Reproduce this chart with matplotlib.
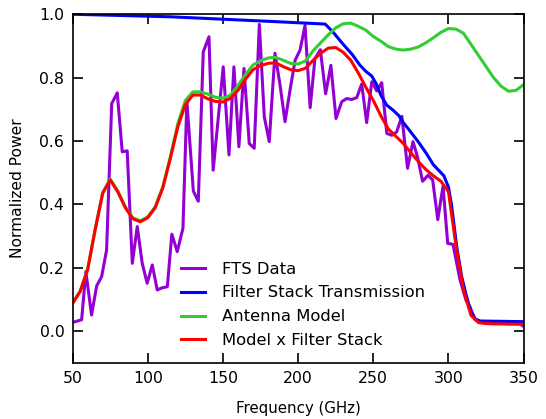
import matplotlib
matplotlib.use("Agg")
from matplotlib import pyplot as plt

# FTS measurement (GHz, normalized power)
fts_freq = [50.4, 56, 58.8, 62.6, 66, 69.3, 72.6, 76, 79.7, 83, 86.3, 89.7, 93, 96.3,
            99.6, 103, 106.3, 109.6, 113, 116, 119.6, 123.4, 126, 130.3, 133.6, 136.9,
            140.7, 143.5, 150.2, 154, 157.3, 160.6, 164, 167.5, 170.8, 174.2, 177.5,
            180.8, 184.6, 188, 191.3, 194.6, 198, 201.3, 204.6, 208, 211.2, 214.8,
            218.3, 221.8, 225.2, 229, 232.3, 235.6, 239, 242.3, 245.6, 249, 252.3,
            255.6, 259, 262.4, 265.6, 269, 272.8, 276.4, 279.4, 282.8, 286.5, 289.5,
            292.9, 296.4, 299.5, 303, 307.7, 311.7, 314.3, 317.7, 321, 330, 340, 347, 350]
fts_power = [0.028, 0.036, 0.188, 0.051, 0.143, 0.172, 0.256, 0.718, 0.752, 0.566, 0.569,
             0.214, 0.33, 0.214, 0.151, 0.209, 0.13, 0.137, 0.14, 0.306, 0.251, 0.325,
             0.725, 0.442, 0.41, 0.881, 0.929, 0.508, 0.834, 0.556, 0.834, 0.582, 0.829,
             0.592, 0.577, 0.968, 0.676, 0.598, 0.877, 0.776, 0.661, 0.76, 0.855, 0.887,
             0.965, 0.705, 0.86, 0.888, 0.749, 0.839, 0.671, 0.724, 0.734, 0.731, 0.737,
             0.78, 0.658, 0.787, 0.758, 0.784, 0.624, 0.618, 0.629, 0.678, 0.514, 0.598,
             0.55, 0.473, 0.492, 0.477, 0.352, 0.458, 0.277, 0.274, 0.162, 0.097, 0.077,
             0.036, 0.03, 0.028, 0.028, 0.025, 0.015]

# filter stack transmission
filt_freq = [50, 115, 188, 218, 223, 230, 236, 241, 245, 249, 252, 255, 259, 263, 267,
             270, 275, 280, 285, 290, 294, 297, 300, 302, 305.5, 308.8, 312, 315, 318,
             321, 350]
filt_power = [1.0, 0.992, 0.976, 0.969, 0.945, 0.905, 0.873, 0.84, 0.82, 0.805, 0.78,
              0.745, 0.713, 0.698, 0.68, 0.658, 0.628, 0.597, 0.563, 0.525, 0.505, 0.49,
              0.455, 0.40, 0.267, 0.172, 0.11, 0.06, 0.038, 0.032, 0.03]

# antenna model and model x filter stack
model_freq = [50, 55, 60, 65, 70, 75, 80, 85, 90, 95, 100, 105, 110, 115, 120, 125, 130,
              135, 140, 145, 150, 155, 160, 165, 170, 175, 180, 185, 190, 195, 200, 205,
              210, 215, 220, 225, 230, 235, 240, 245, 250, 255, 260, 265, 270, 275, 280,
              285, 290, 295, 300, 305, 310, 315, 320, 325, 330, 335, 340, 345, 350]
antenna = [0.088, 0.126, 0.196, 0.322, 0.437, 0.48, 0.443, 0.393, 0.358, 0.348, 0.361,
           0.393, 0.456, 0.55, 0.655, 0.728, 0.755, 0.755, 0.748, 0.738, 0.735, 0.745,
           0.775, 0.81, 0.84, 0.853, 0.862, 0.864, 0.855, 0.845, 0.843, 0.853, 0.885,
           0.91, 0.935, 0.957, 0.97, 0.972, 0.962, 0.95, 0.93, 0.915, 0.898, 0.89, 0.887,
           0.89, 0.897, 0.91, 0.926, 0.943, 0.955, 0.953, 0.94, 0.905, 0.87, 0.835, 0.8,
           0.773, 0.757, 0.76, 0.778]
combined = [0.088, 0.125, 0.194, 0.32, 0.435, 0.477, 0.44, 0.39, 0.355, 0.345, 0.358,
            0.39, 0.452, 0.545, 0.645, 0.715, 0.745, 0.745, 0.733, 0.725, 0.723, 0.735,
            0.76, 0.795, 0.825, 0.838, 0.845, 0.847, 0.835, 0.825, 0.822, 0.83, 0.855,
            0.877, 0.893, 0.895, 0.88, 0.855, 0.815, 0.77, 0.728, 0.68, 0.638, 0.615,
            0.592, 0.563, 0.535, 0.51, 0.49, 0.473, 0.44, 0.27, 0.13, 0.05, 0.027, 0.024,
            0.023, 0.023, 0.022, 0.022, 0.022]

plt.rcParams['font.family'] = 'DejaVu Sans'

fig = plt.figure(figsize=(5.46, 4.19), dpi=100)
ax = fig.add_axes([0.133, 0.134, 0.826, 0.832])

lw = 2.2
ax.plot(fts_freq, fts_power, color='#9400D3', lw=lw, label='FTS Data')
ax.plot(filt_freq, filt_power, color='#0000FF', lw=lw, label='Filter Stack Transmission')
ax.plot(model_freq, antenna, color='#33CC33', lw=lw, label='Antenna Model')
ax.plot(model_freq, combined, color='#FF0000', lw=lw, label='Model x Filter Stack')

ax.set_xlim(50, 350)
ax.set_ylim(-0.1, 1.0)
ax.set_xticks([50, 100, 150, 200, 250, 300, 350])
ax.set_yticks([0.0, 0.2, 0.4, 0.6, 0.8, 1.0])
ax.tick_params(direction='in', length=7.5, width=1.2, top=True, right=True, pad=6,
               labelsize=11.3)
for s in ax.spines.values():
    s.set_linewidth(1.2)

ax.set_xlabel('Frequency (GHz)', fontsize=10.8, labelpad=11)
ax.set_ylabel('Normalized Power', fontsize=11.2, labelpad=10)

ax.legend(loc='lower center', bbox_to_anchor=(0.51, 0.0), frameon=False, fontsize=11.8,
          handlelength=1.46, handletextpad=1.04, labelspacing=0.54)

fig.savefig('out.png', dpi=100)
